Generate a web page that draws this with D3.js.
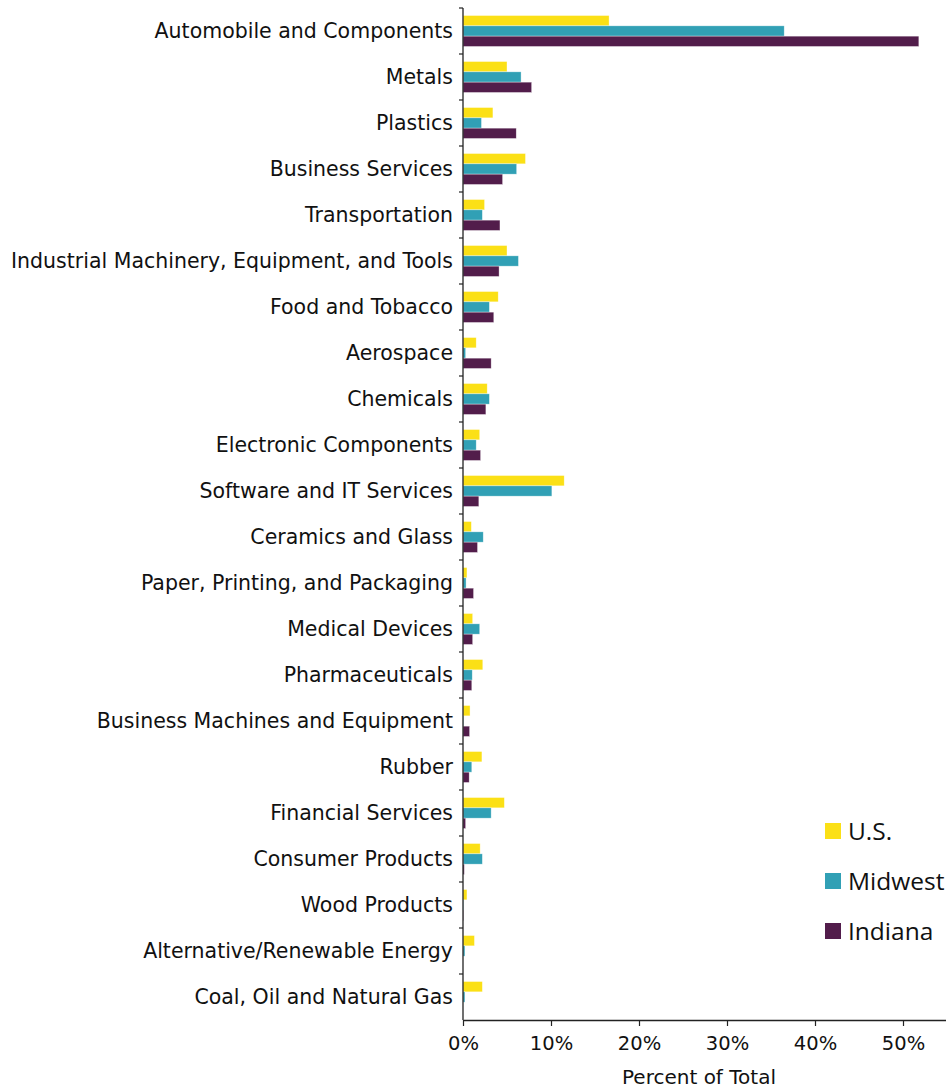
<!DOCTYPE html>
<html>
  <head>
    <script src='https://d3js.org/d3.v7.min.js'></script>
    <style type='text/css'>
      body, html { margin: 0; padding: 0; background: #fff; }
      svg { display: block; }
    </style>
  </head>
  <body>
    <svg width='946' height='1090'></svg>
    <script type='text/javascript'>
      var categories = [
        'Automobile and Components', 'Metals', 'Plastics', 'Business Services',
        'Transportation', 'Industrial Machinery, Equipment, and Tools', 'Food and Tobacco',
        'Aerospace', 'Chemicals', 'Electronic Components', 'Software and IT Services',
        'Ceramics and Glass', 'Paper, Printing, and Packaging', 'Medical Devices',
        'Pharmaceuticals', 'Business Machines and Equipment', 'Rubber', 'Financial Services',
        'Consumer Products', 'Wood Products', 'Alternative/Renewable Energy',
        'Coal, Oil and Natural Gas'
      ]
      var series = ['U.S.', 'Midwest', 'Indiana']
      var usValues = [16.6, 5.0, 3.4, 7.1, 2.45, 5.0, 4.0, 1.5, 2.75, 1.9, 11.5, 0.95, 0.45, 1.1, 2.25, 0.8, 2.15, 4.7, 1.95, 0.45, 1.3, 2.2]
      var midwestValues = [36.5, 6.6, 2.1, 6.1, 2.2, 6.3, 3.0, 0.3, 3.0, 1.5, 10.1, 2.3, 0.35, 1.9, 1.05, 0.05, 1.0, 3.2, 2.2, 0.05, 0.22, 0.22]
      var indianaValues = [51.8, 7.8, 6.05, 4.5, 4.2, 4.1, 3.5, 3.2, 2.6, 2.0, 1.8, 1.65, 1.2, 1.1, 1.0, 0.75, 0.7, 0.3, 0.15, 0.05, 0.0, 0.0]
      var xTicks = [0, 10, 20, 30, 40, 50]
      var colors = ['#FBE016', '#31A0B5', '#521D4B']

      var valuesBySeries = [usValues, midwestValues, indianaValues]

      var svg = d3.select('svg')
      var labelFont = "'DejaVu Sans', Verdana, sans-serif"

      var x = d3.scaleLinear().domain([0, 55]).range([463, 947])
      var y = d3.scaleBand().domain(categories).range([8, 1020])
      var ySub = d3.scaleBand().domain(series).range([0, y.bandwidth()]).paddingOuter(0.73)
      var color = d3.scaleOrdinal().domain(series).range(colors)

      var data = []
      categories.forEach(function(c, i) {
        series.forEach(function(s, j) {
          data.push({cat: c, ser: s, val: valuesBySeries[j][i]})
        })
      })

      // bars
      svg.append('g')
        .selectAll('rect')
        .data(data)
        .enter().append('rect')
          .attr('x', x(0))
          .attr('y', function(d) { return y(d.cat) + ySub(d.ser) })
          .attr('width', function(d) { return Math.max(0, x(d.val) - x(0)) })
          .attr('height', ySub.bandwidth())
          .attr('fill', function(d) { return color(d.ser) })
          .attr('stroke', 'rgba(255,255,255,0.6)')
          .attr('stroke-width', 0.6)

      // y axis: line with ticks at category boundaries
      var yAxisG = svg.append('g')
      yAxisG.append('line')
        .attr('x1', x(0)).attr('x2', x(0))
        .attr('y1', y.range()[0]).attr('y2', y.range()[1])
        .attr('stroke', '#222').attr('stroke-width', 1.3)
      yAxisG.selectAll('.ytick')
        .data(categories)
        .enter().append('line')
          .attr('x1', x(0) - 4).attr('x2', x(0))
          .attr('y1', function(d) { return y(d) })
          .attr('y2', function(d) { return y(d) })
          .attr('stroke', '#222').attr('stroke-width', 1.2)
      yAxisG.selectAll('.ylabel')
        .data(categories)
        .enter().append('text')
          .attr('x', x(0) - 10)
          .attr('y', function(d) { return y(d) + y.bandwidth() / 2 })
          .attr('dy', '0.35em')
          .attr('text-anchor', 'end')
          .attr('font-family', labelFont)
          .attr('font-size', 20.5)
          .attr('fill', '#111')
          .text(function(d) { return d })

      // x axis
      var xAxis = d3.axisBottom(x)
        .tickValues(xTicks)
        .tickSize(6)
        .tickSizeOuter(0)
        .tickFormat(function(d) { return d + '%' })
      var xg = svg.append('g')
        .attr('transform', 'translate(0,' + y.range()[1] + ')')
        .call(xAxis)
      xg.select('.domain').attr('stroke', '#222').attr('stroke-width', 1.3)
      xg.selectAll('.tick line').attr('stroke', '#222').attr('stroke-width', 1.2)
      xg.selectAll('.tick text')
        .attr('font-family', labelFont)
        .attr('font-size', 19.5)
        .attr('fill', '#111')
        .attr('dy', '1.1em')

      svg.append('text')
        .attr('x', 699)
        .attr('y', 1084)
        .attr('text-anchor', 'middle')
        .attr('font-family', labelFont)
        .attr('font-size', 20)
        .attr('fill', '#111')
        .text('Percent of Total')

      // legend
      var legend = svg.append('g')
        .selectAll('g')
        .data(series)
        .enter().append('g')
          .attr('transform', function(d, i) { return 'translate(825,' + (823 + i * 50) + ')' })
      legend.append('rect')
        .attr('width', 16).attr('height', 16)
        .attr('fill', function(d) { return color(d) })
      legend.append('text')
        .attr('x', 23)
        .attr('y', 8)
        .attr('dy', '0.35em')
        .attr('font-family', "'Open Sans', 'Noto Sans', sans-serif")
        .attr('font-size', 24.5)
        .attr('fill', '#111')
        .text(function(d) { return d })
    </script>
  </body>
</html>
